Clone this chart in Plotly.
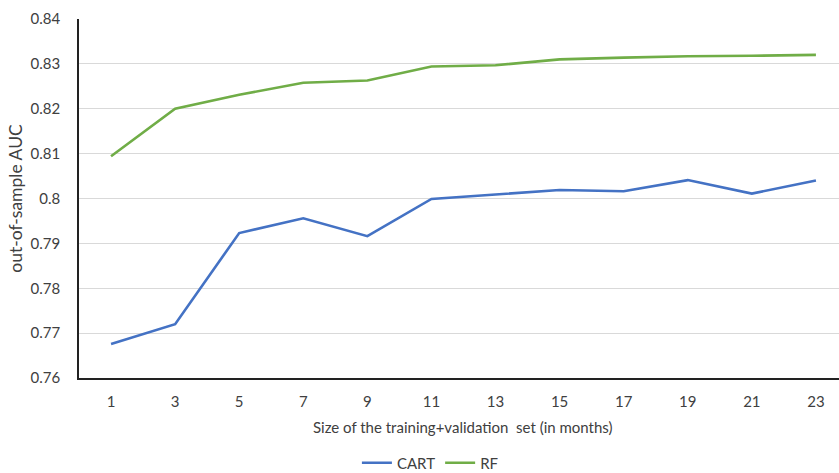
import plotly.graph_objects as go

months = [1, 3, 5, 7, 9, 11, 13, 15, 17, 19, 21, 23]
cart = [0.7676, 0.7720, 0.7923, 0.7956, 0.7916, 0.7999, 0.8009, 0.8019, 0.8016, 0.8041, 0.8011, 0.8040]
rf = [0.8094, 0.8200, 0.8231, 0.8258, 0.8263, 0.8294, 0.8297, 0.8310, 0.8314, 0.8317, 0.8318, 0.8320]
y_ticks = [0.76, 0.77, 0.78, 0.79, 0.8, 0.81, 0.82, 0.83, 0.84]
y_tick_text = ["0.76", "0.77", "0.78", "0.79", "0.8", "0.81", "0.82", "0.83", "0.84"]

FONT = "Lato, 'Open Sans', sans-serif"
TXT = "#404040"

fig = go.Figure()
fig.add_trace(go.Scatter(x=months, y=cart, mode="lines", name="CART",
                         line=dict(color="#4472C4", width=2.6)))
fig.add_trace(go.Scatter(x=months, y=rf, mode="lines", name="RF",
                         line=dict(color="#70AD47", width=2.6)))

fig.update_layout(
    width=839, height=473,
    margin=dict(l=79, r=0, t=19, b=95),
    paper_bgcolor="white", plot_bgcolor="white",
    font=dict(family=FONT, size=15, color=TXT),
    showlegend=True,
    legend=dict(orientation="h", xref="container", yref="container",
                x=0.513, xanchor="center", y=0.021, yanchor="middle",
                font=dict(family=FONT, size=15, color=TXT), itemwidth=30,
                tracegroupgap=0),
    xaxis=dict(
        range=[0, 23.72], tickmode="array", tickvals=months,
        ticktext=[str(m) for m in months],
        showgrid=False, zeroline=False,
        showline=True, linecolor="#222222", linewidth=1.5,
        ticks="outside", ticklen=9, tickcolor="rgba(0,0,0,0)",
        tickfont=dict(family=FONT, size=15, color=TXT),
    ),
    yaxis=dict(
        range=[0.76, 0.84], tickmode="array", tickvals=y_ticks, ticktext=y_tick_text,
        showgrid=True, gridcolor="#d9d9d9", gridwidth=1.2, zeroline=False,
        showline=True, linecolor="#222222", linewidth=1.5,
        ticks="outside", ticklen=14, tickcolor="rgba(0,0,0,0)",
        tickfont=dict(family=FONT, size=15, color=TXT),
        title=dict(text="out-of-sample AUC", standoff=3,
                   font=dict(family=FONT, size=17.5, color=TXT)),
    ),
    annotations=[dict(text="Size of the training+validation  set (in months)",
                      xref="paper", yref="paper", x=0.5055, y=-0.137,
                      xanchor="center", yanchor="middle", showarrow=False,
                      font=dict(family=FONT, size=15, color=TXT))],
)

fig.write_html("out.html", config={"displayModeBar": False},
               post_script="document.body.style.margin='0';document.body.style.overflow='hidden';")
